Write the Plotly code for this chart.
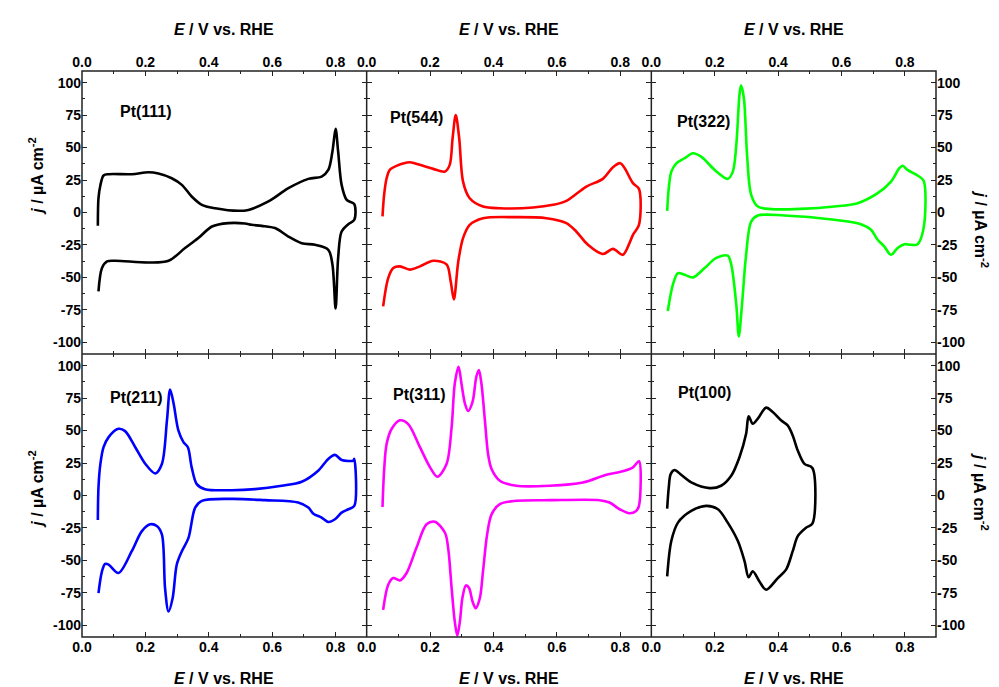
import plotly.graph_objects as go
from plotly.subplots import make_subplots

# ---------------- data (E in V vs RHE, j in uA cm^-2), one closed CV loop each
pt111_E = [0.050,0.052,0.058,0.068,0.084,0.157,0.21,0.241,0.283,0.315,0.346,0.378,0.42,0.493,0.525,0.588,0.651,0.714,0.756,0.777,0.79,0.80,0.808,0.819,0.835,0.859,0.859,
           0.84,0.819,0.808,0.80,0.79,0.777,0.735,0.693,0.651,0.609,0.567,0.535,0.514,0.462,0.41,0.367,0.325,0.273,0.21,0.105,0.079,0.063,0.052]
pt111_j = [-10.3,11,21,28.5,29.5,29.5,31,30,26.4,21.3,12.3,5.9,3.3,1.3,2,8.5,18.7,25.9,27.7,32.8,47,64.4,47,21.3,9.7,6.4,-5.6,
           -9,-14.6,-35,-74,-40,-28.7,-24.9,-23.6,-18.5,-12,-10.3,-9.5,-8.5,-8.2,-10.8,-19.7,-27.4,-37.2,-38.5,-37.2,-37.7,-42.8,-60.8]

pt544_E = [0.05,0.055,0.063,0.073,0.094,0.136,0.168,0.21,0.247,0.262,0.271,0.281,0.292,0.304,0.325,0.367,0.42,0.525,0.588,0.63,0.693,0.745,0.777,0.80,0.814,0.84,0.859,0.859,
           0.84,0.829,0.808,0.777,0.745,0.698,0.661,0.63,0.567,0.472,0.367,0.325,0.304,0.289,0.275,0.265,0.252,0.21,0.168,0.136,0.105,0.084,0.068,0.052]
pt544_j = [-3,13.6,26.4,32.8,35.9,38.7,36.7,33.6,31.5,36.7,57,75,57,23.8,11,4.6,3.3,3.8,5.9,9,20,25.9,34.9,38,34.1,22.6,18.2,-9.5,
           -17.2,-23.6,-32.6,-28,-32,-24.9,-14.6,-8.2,-4.4,-3.6,-4.4,-9.5,-19.7,-37.7,-67,-53,-40,-37.2,-41.5,-44,-41.5,-42.8,-50.5,-72.3]

pt322_E = [0.05,0.055,0.063,0.079,0.105,0.131,0.157,0.2,0.241,0.257,0.268,0.278,0.283,0.292,0.302,0.315,0.336,0.378,0.472,0.577,0.651,0.714,0.756,0.782,0.793,0.808,0.84,0.859,0.859,
           0.84,0.819,0.798,0.777,0.756,0.735,0.714,0.693,0.661,0.577,0.42,0.336,0.315,0.299,0.286,0.276,0.268,0.252,0.241,0.205,0.168,0.131,0.105,0.084,0.068,0.052]
pt322_j = [1.3,18.7,31.5,37.9,41.8,45.6,43,32.8,25.9,31.5,52,90.5,98,88,44.4,13.6,4.6,2.6,2.8,4.6,7.2,14.9,23.8,34,36,32.8,28.5,24.4,-12,
           -24.4,-24.9,-24.4,-27.4,-32.6,-26.2,-21,-13.3,-9,-5.6,-2.3,-2.3,-7,-32.6,-71,-95.4,-71,-40,-33.3,-35,-42.8,-50,-48,-46.7,-55.6,-76]

pt211_E = [0.05,0.052,0.058,0.068,0.084,0.115,0.136,0.168,0.2,0.231,0.252,0.268,0.278,0.289,0.304,0.32,0.334,0.346,0.362,0.388,0.472,0.546,0.63,0.693,0.745,0.777,0.798,0.819,0.856,0.859,0.859,
           0.84,0.819,0.798,0.777,0.756,0.73,0.714,0.682,0.577,0.472,0.378,0.357,0.336,0.315,0.299,0.286,0.273,0.262,0.252,0.236,0.215,0.189,0.157,0.115,0.084,0.073,0.063,0.052]
pt211_j = [-18.9,6.2,24.3,37.2,45,51.4,49.6,37.2,24.3,17,24.3,57.9,81.7,70.8,50.1,41.1,37.2,21.7,8.8,4.9,4.1,4.9,7.5,10.6,19.1,28.2,31.3,27.4,26.9,28.2,-8,
           -10.6,-13.2,-18.3,-20.4,-17,-14,-9.3,-5.4,-3.6,-2.6,-4.1,-9.3,-32.6,-42.9,-53.2,-79,-89.4,-71.3,-30,-23.5,-22.2,-27.4,-42.9,-59.7,-53.2,-52.7,-58.4,-75.2]

pt311_E = [0.05,0.055,0.063,0.079,0.105,0.131,0.168,0.2,0.223,0.252,0.268,0.278,0.29,0.299,0.31,0.32,0.334,0.346,0.354,0.362,0.373,0.383,0.394,0.42,0.472,0.577,0.682,0.756,0.808,0.84,0.859,0.859,
           0.85,0.829,0.798,0.766,0.735,0.577,0.472,0.42,0.394,0.38,0.367,0.357,0.344,0.334,0.323,0.313,0.302,0.294,0.286,0.278,0.268,0.257,0.247,0.215,0.189,0.157,0.126,0.105,0.084,0.068,0.052]
pt311_j = [-8.8,19.1,39.8,51.4,57.9,55,37.2,21.7,14.5,24.3,52.7,86.3,99.2,86.3,70.8,65.1,72.1,91.5,96.6,86.3,57.9,32,20.4,11.4,7.5,7.5,10,16,18.6,21.7,26.4,-8,
           -11.9,-13.7,-10.6,-5.4,-3.6,-3.6,-4.1,-6.7,-14.5,-30,-58.4,-79,-86.8,-81.7,-71.3,-69.3,-79,-97.2,-108,-97.2,-71.3,-40.3,-28.7,-20.2,-22.2,-40.3,-59.7,-65.4,-63.6,-68.7,-88.1]

pt100_E = [0.05,0.055,0.061,0.073,0.094,0.126,0.184,0.22,0.252,0.278,0.299,0.307,0.32,0.336,0.362,0.383,0.409,0.43,0.446,0.462,0.483,0.508,0.508,
           0.488,0.462,0.446,0.425,0.399,0.362,0.341,0.32,0.307,0.294,0.273,0.241,0.21,0.173,0.126,0.084,0.063,0.05]
pt100_j = [-10.1,6.2,16.5,19.6,16,10.1,5.7,7.5,15.2,29.5,47.5,61,55.3,59.2,67.7,64.3,57.9,54,46.3,34.6,24.3,21.2,-21.7,
           -24.8,-31.3,-42.9,-57.1,-63.6,-72.6,-66.2,-58.4,-63,-50.6,-35.1,-20.9,-10.6,-8,-11.9,-20.9,-35.1,-62.3]

panel_names = ["Pt(111)", "Pt(544)", "Pt(322)", "Pt(211)", "Pt(311)", "Pt(100)"]
panel_E = [pt111_E, pt544_E, pt322_E, pt211_E, pt311_E, pt100_E]
panel_j = [pt111_j, pt544_j, pt322_j, pt211_j, pt311_j, pt100_j]
panel_colors = ["#000000", "#FF0000", "#00FF00", "#0000FF", "#FF00FF", "#000000"]
label_pos = [(0.113, 77.7), (0.066, 73), (0.076, 70), (0.082, 75.4), (0.076, 77.7), (0.078, 79)]

x_ticks = [0.0, 0.2, 0.4, 0.6, 0.8]
x_ticktext = ["0.0", "0.2", "0.4", "0.6", "0.8"]
x_minor = [0.1, 0.3, 0.5, 0.7]
y_ticks = [-100, -75, -50, -25, 0, 25, 50, 75, 100]
y_ticktext = ["-100", "-75", "-50", "-25", "0", "25", "50", "75", "100"]
y_minor = [-87.5, -62.5, -37.5, -12.5, 12.5, 37.5, 62.5, 87.5]

FONT = "Liberation Sans, Arial, sans-serif"
AXC = "#222222"
tickfont = dict(family=FONT, size=14, color="black", weight="bold")
titlefont = dict(family=FONT, size=16, color="black", weight="bold")

fig = make_subplots(rows=2, cols=3, horizontal_spacing=0, vertical_spacing=0)

for i in range(6):
    r, c = i // 3 + 1, i % 3 + 1
    fig.add_trace(go.Scatter(x=panel_E[i], y=panel_j[i], mode="lines",
                             line=dict(color=panel_colors[i], width=2.6, shape="spline", smoothing=0.9),
                             showlegend=False, hoverinfo="skip"), row=r, col=c)
    fig.update_xaxes(range=[0, 0.898], tickmode="array", tickvals=x_ticks, ticktext=x_ticktext,
                     ticks="inside", ticklen=5, tickwidth=1.3, tickcolor=AXC,
                     minor=dict(tickmode="array", tickvals=x_minor, ticks="inside", ticklen=3, tickwidth=1.2, tickcolor=AXC),
                     showline=False, mirror="ticks",
                     showgrid=False, zeroline=False, tickfont=tickfont,
                     side="top" if r == 1 else "bottom", showticklabels=True,
                     row=r, col=c)
    fig.update_yaxes(range=[-109, 109], tickmode="array", tickvals=y_ticks, ticktext=y_ticktext,
                     ticks="inside", ticklen=5, tickwidth=1.3, tickcolor=AXC,
                     minor=dict(tickmode="array", tickvals=y_minor, ticks="inside", ticklen=3, tickwidth=1.2, tickcolor=AXC),
                     showline=False, mirror="ticks",
                     showgrid=False, zeroline=False, tickfont=tickfont,
                     side="right" if c == 3 else "left", showticklabels=(c != 2),
                     row=r, col=c)
    lx, ly = label_pos[i]
    xref = "x" if i == 0 else "x%d" % (i + 1)
    yref = "y" if i == 0 else "y%d" % (i + 1)
    fig.add_annotation(x=lx, y=ly, xref=xref, yref=yref, text=panel_names[i], showarrow=False,
                       xanchor="left", yanchor="middle", font=titlefont)

# frame lines (outer box and shared panel borders)
frame = dict(color=AXC, width=1.5)
fig.add_shape(type="rect", xref="paper", yref="paper", x0=0, x1=1, y0=0, y1=1, line=frame, layer="above")
for xv in (1 / 3, 2 / 3):
    fig.add_shape(type="line", xref="paper", yref="paper", x0=xv, x1=xv, y0=0, y1=1, line=frame, layer="above")
fig.add_shape(type="line", xref="paper", yref="paper", x0=0, x1=1, y0=0.5, y1=0.5, line=frame, layer="above")

# axis titles
xtitle = "<i>E</i> / V vs. RHE"
ytitle = "<i>j</i> / µA cm<sup>-2</sup>"
for k in range(3):
    cx = (k + 0.5) / 3
    fig.add_annotation(x=cx, y=1, xref="paper", yref="paper", text=xtitle, showarrow=False,
                       xanchor="center", yanchor="middle", yshift=42, font=titlefont)
    fig.add_annotation(x=cx, y=0, xref="paper", yref="paper", text=xtitle, showarrow=False,
                       xanchor="center", yanchor="middle", yshift=-41, font=titlefont)

fig.add_annotation(x=0, y=0.815, xref="paper", yref="paper", text=ytitle, showarrow=False,
                   textangle=-90, xanchor="center", yanchor="middle", xshift=-46, font=titlefont)
fig.add_annotation(x=0, y=0.262, xref="paper", yref="paper", text=ytitle, showarrow=False,
                   textangle=-90, xanchor="center", yanchor="middle", xshift=-46, font=titlefont)
fig.add_annotation(x=1, y=0.72, xref="paper", yref="paper", text=ytitle, showarrow=False,
                   textangle=90, xanchor="center", yanchor="middle", xshift=45, font=titlefont)
fig.add_annotation(x=1, y=0.256, xref="paper", yref="paper", text=ytitle, showarrow=False,
                   textangle=90, xanchor="center", yanchor="middle", xshift=45, font=titlefont)

fig.update_layout(width=999, height=687, margin=dict(l=82, r=63, t=71, b=50),
                  paper_bgcolor="white", plot_bgcolor="white")

fig.write_html("out.html")
